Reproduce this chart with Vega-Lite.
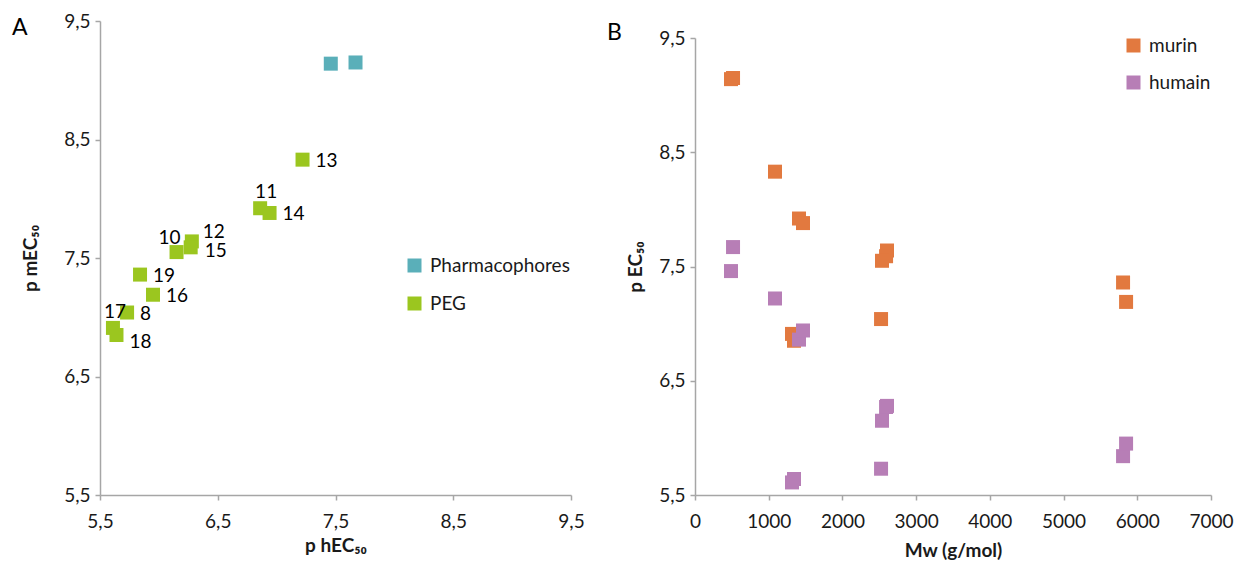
{
  "$schema": "https://vega.github.io/schema/vega-lite/v6.json",
  "background": "white",
  "padding": {"left": 12, "top": 12, "right": 5, "bottom": 5},
  "config": {
    "font": "Lato",
    "view": {"stroke": null},
    "axis": {
      "domainColor": "#A6A6A6", "domainWidth": 1.5, "tickColor": "#A6A6A6", "tickWidth": 1.5, "tickSize": 5,
      "grid": false, "labelFont": "Lato", "labelFontSize": 19, "labelColor": "#1a1a1a", "labelFlush": false, "labelOverlap": false,
      "titleFont": "Lato", "titleFontSize": 19, "titleFontWeight": "bold", "titleColor": "#1a1a1a"
    },
    "legend": {
      "labelFont": "Lato", "labelFontSize": 19, "labelColor": "#1a1a1a", "symbolType": "square",
      "symbolSize": 196, "symbolStrokeWidth": 0, "symbolOpacity": 1, "padding": 0, "labelOffset": 6, "rowPadding": 18
    },
    "title": {"font": "Lato", "fontSize": 23, "fontWeight": "normal", "color": "#000000", "anchor": "start", "frame": "group", "offset": 0, "baseline": "alphabetic"}
  },
  "datasets": {
    "d": [
      {"id": "P1", "group": "Pharmacophores", "Mw": 488, "murin": 9.14, "humain": 7.46},
      {"id": "P2", "group": "Pharmacophores", "Mw": 516, "murin": 9.15, "humain": 7.67},
      {"id": "13", "group": "PEG", "Mw": 1085, "murin": 8.33, "humain": 7.22},
      {"id": "11", "group": "PEG", "Mw": 1411, "murin": 7.92, "humain": 6.86},
      {"id": "14", "group": "PEG", "Mw": 1465, "murin": 7.88, "humain": 6.94},
      {"id": "17", "group": "PEG", "Mw": 1316, "murin": 6.91, "humain": 5.61},
      {"id": "18", "group": "PEG", "Mw": 1343, "murin": 6.85, "humain": 5.64},
      {"id": "12", "group": "PEG", "Mw": 2605, "murin": 7.64, "humain": 6.28},
      {"id": "15", "group": "PEG", "Mw": 2592, "murin": 7.59, "humain": 6.27},
      {"id": "10", "group": "PEG", "Mw": 2537, "murin": 7.55, "humain": 6.15},
      {"id": "8", "group": "PEG", "Mw": 2524, "murin": 7.04, "humain": 5.73},
      {"id": "19", "group": "PEG", "Mw": 5807, "murin": 7.36, "humain": 5.84},
      {"id": "16", "group": "PEG", "Mw": 5848, "murin": 7.19, "humain": 5.95}
    ]
  },
  "spacing": 124,
  "bounds": "flush",
  "resolve": {"scale": {"color": "independent", "x": "independent", "y": "independent"}, "legend": {"color": "independent"}},
  "hconcat": [
    {
      "width": 471,
      "height": 474,
      "title": {"text": "A", "dx": -88, "dy": 32},
      "encoding": {
        "x": {"field": "humain", "type": "quantitative", "scale": {"domain": [5.5, 9.5], "nice": false, "zero": false},
          "axis": {"values": [5.5, 6.5, 7.5, 8.5, 9.5], "labelExpr": "replace(format(datum.value, '.1f'), '.', ',')", "labelPadding": 12, "title": "p hEC₅₀", "titleY": 50, "titleBaseline": "middle"}},
        "y": {"field": "murin", "type": "quantitative", "scale": {"domain": [5.5, 9.5], "nice": false, "zero": false},
          "axis": {"values": [5.5, 6.5, 7.5, 8.5, 9.5], "labelExpr": "replace(format(datum.value, '.1f'), '.', ',')", "labelPadding": 5, "title": "p mEC₅₀", "titleX": -70, "titleBaseline": "middle"}}
      },
      "layer": [
        {
          "data": {"values": [{}]},
          "mark": {"type": "rule", "color": "#A58A63", "strokeWidth": 1.5},
          "encoding": {
            "x": {"datum": 5.5, "type": "quantitative"},
            "y": {"datum": 5.5, "type": "quantitative"},
            "x2": {"datum": 9.5},
            "y2": {"datum": 9.5}
          }
        },
        {
          "data": {"name": "d"},
          "mark": {"type": "point", "shape": "square", "filled": true, "opacity": 1, "size": 196},
          "encoding": {
            "color": {"field": "group", "type": "nominal", "scale": {"domain": ["Pharmacophores", "PEG"], "range": ["#5AAFB9", "#9BC61F"]},
              "legend": {"orient": "none", "legendX": 305, "legendY": 235, "title": null}}
          }
        },
        {
          "data": {"name": "d"},
          "transform": [{"filter": {"field": "id", "oneOf": ["13", "14", "19", "16", "8"]}}],
          "mark": {"type": "text", "align": "left", "baseline": "middle", "dx": 13, "dy": 1, "fontSize": 19, "color": "#000000"},
          "encoding": {"text": {"field": "id"}}
        },
        {
          "data": {"name": "d"},
          "transform": [{"filter": {"field": "id", "oneOf": ["11"]}}],
          "mark": {"type": "text", "align": "center", "baseline": "middle", "dx": 6, "dy": -16, "fontSize": 19, "color": "#000000"},
          "encoding": {"text": {"field": "id"}}
        },
        {
          "data": {"name": "d"},
          "transform": [{"filter": {"field": "id", "oneOf": ["10"]}}],
          "mark": {"type": "text", "align": "center", "baseline": "middle", "dx": -7, "dy": -14, "fontSize": 19, "color": "#000000"},
          "encoding": {"text": {"field": "id"}}
        },
        {
          "data": {"name": "d"},
          "transform": [{"filter": {"field": "id", "oneOf": ["17"]}}],
          "mark": {"type": "text", "align": "center", "baseline": "middle", "dx": 2, "dy": -16, "fontSize": 19, "color": "#000000"},
          "encoding": {"text": {"field": "id"}}
        },
        {
          "data": {"name": "d"},
          "transform": [{"filter": {"field": "id", "oneOf": ["12"]}}],
          "mark": {"type": "text", "align": "left", "baseline": "middle", "dx": 11, "dy": -9, "fontSize": 19, "color": "#000000"},
          "encoding": {"text": {"field": "id"}}
        },
        {
          "data": {"name": "d"},
          "transform": [{"filter": {"field": "id", "oneOf": ["15"]}}],
          "mark": {"type": "text", "align": "left", "baseline": "middle", "dx": 14, "dy": 4, "fontSize": 19, "color": "#000000"},
          "encoding": {"text": {"field": "id"}}
        },
        {
          "data": {"name": "d"},
          "transform": [{"filter": {"field": "id", "oneOf": ["18"]}}],
          "mark": {"type": "text", "align": "left", "baseline": "middle", "dx": 13, "dy": 7, "fontSize": 19, "color": "#000000"},
          "encoding": {"text": {"field": "id"}}
        }
      ]
    },
    {
      "width": 516,
      "height": 474,
      "title": {"text": "B", "dx": -88, "dy": 28},
      "data": {"name": "d"},
      "encoding": {
        "x": {"field": "Mw", "type": "quantitative", "scale": {"domain": [0, 7000], "nice": false},
          "axis": {"values": [0, 1000, 2000, 3000, 4000, 5000, 6000, 7000], "format": "d", "labelPadding": 12, "title": "Mw (g/mol)", "titleY": 55, "titleBaseline": "middle"}}
      },
      "layer": [
        {
          "mark": {"type": "point", "shape": "square", "filled": true, "opacity": 1, "size": 196},
          "encoding": {
            "y": {"field": "murin", "type": "quantitative", "scale": {"domain": [5.5, 9.5], "range": [474, 17], "nice": false, "zero": false},
              "axis": {"values": [5.5, 6.5, 7.5, 8.5, 9.5], "labelExpr": "replace(format(datum.value, '.1f'), '.', ',')", "labelPadding": 5, "title": "p EC₅₀", "titleX": -60, "titleBaseline": "middle"}},
            "color": {"datum": "murin", "type": "nominal", "scale": {"domain": ["murin", "humain"], "range": ["#E2793F", "#B77EB6"]},
              "legend": {"orient": "none", "legendX": 429, "legendY": 15, "title": null, "rowPadding": 17}}
          }
        },
        {
          "mark": {"type": "point", "shape": "square", "filled": true, "opacity": 1, "size": 196},
          "encoding": {
            "y": {"field": "humain", "type": "quantitative"},
            "color": {"datum": "humain", "type": "nominal"}
          }
        }
      ]
    }
  ]
}
